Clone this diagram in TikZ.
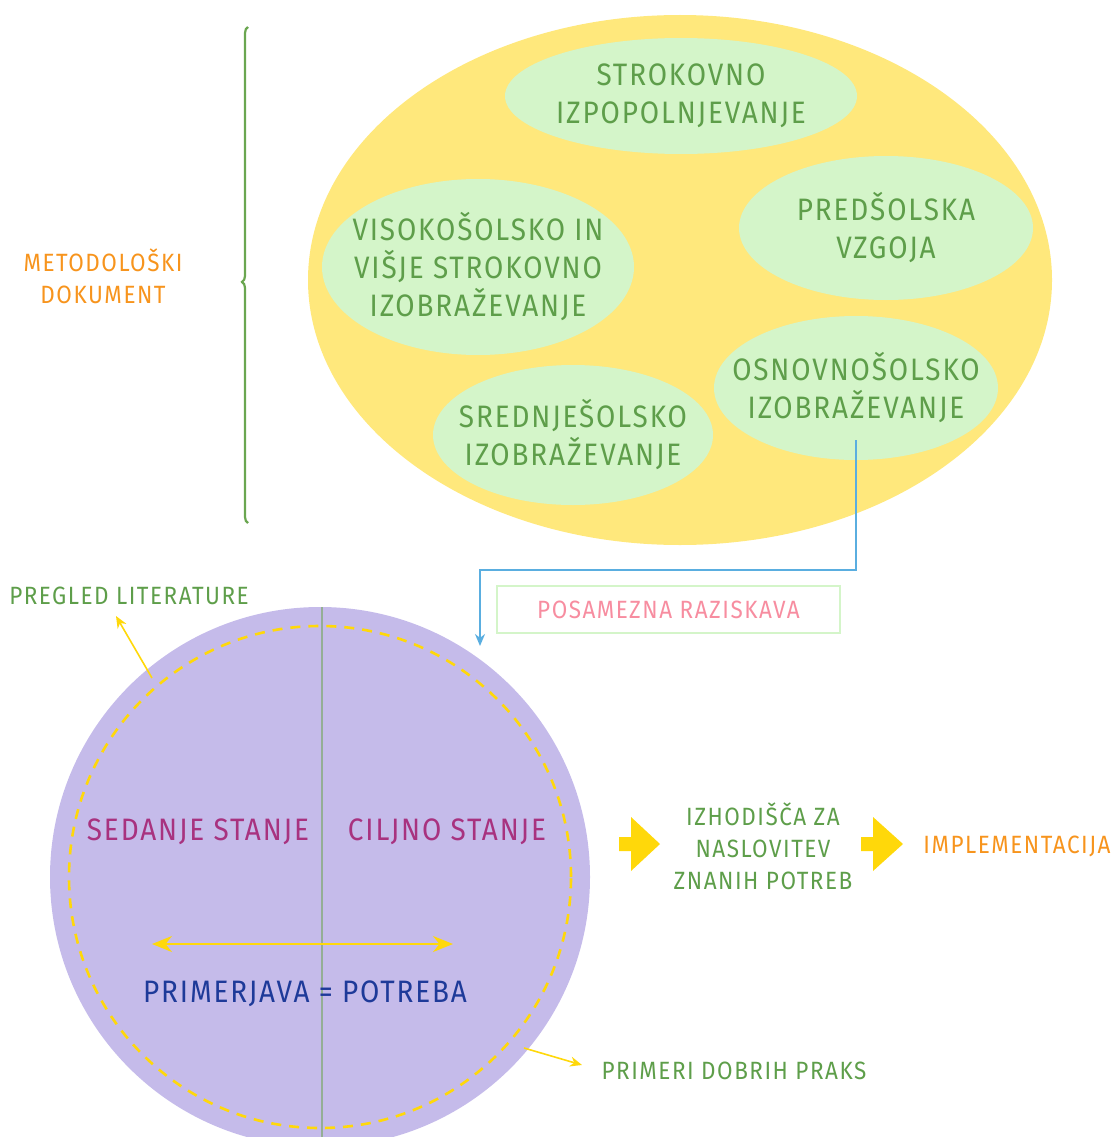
\documentclass[tikz,border=0pt]{standalone}
\usepackage{fontspec}
\setmainfont{Fira Sans}[FakeStretch=0.9,LetterSpace=6]
\usetikzlibrary{shapes.geometric,decorations.pathreplacing,arrows.meta}
\definecolor{bigyel}{HTML}{FFE87C}
\definecolor{lgrn}{HTML}{D4F5C9}
\definecolor{tgrn}{HTML}{5E9E4A}
\definecolor{org}{HTML}{F7941D}
\definecolor{bline}{HTML}{5AAEE0}
\definecolor{pnk}{HTML}{F78DA0}
\definecolor{purp}{HTML}{C5BBEA}
\definecolor{mag}{HTML}{A8327F}
\definecolor{dblue}{HTML}{1E3A99}
\definecolor{ayel}{HTML}{FFD80A}
\definecolor{vline}{HTML}{94AE95}
\definecolor{brc}{HTML}{6AA650}
\tikzset{
  subfill/.style={fill=lgrn},
  subtxt/.style={inner sep=0pt, text=tgrn, align=center,
    font=\fontsize{31}{38}\selectfont},
  lbl/.style={inner sep=0pt, align=center, font=\fontsize{25}{32}\selectfont},
  bigtxt/.style={inner sep=0pt, align=center, font=\fontsize{31}{38}\selectfont},
  blockarrow/.style={fill=ayel, draw=none},
  thinarrow/.style={draw=ayel, line width=1.6pt, -{Stealth[length=12pt,width=10pt]}},
}
\begin{document}
\begin{tikzpicture}[x=1pt,y=-1pt]
\useasboundingbox (0,0) rectangle (1118,1137);
\clip (0,0) rectangle (1118,1137);
% big yellow ellipse
\node[ellipse, fill=bigyel, minimum width=744pt, minimum height=530pt, inner sep=0pt] (big) at (680,280) {};
% sub ellipses
\fill[subfill] (681,96) ellipse[x radius=176pt, y radius=58pt];
\node[subtxt] (strok) at (681,96) {STROKOVNO\\IZPOPOLNJEVANJE};
\fill[subfill] (478,267) ellipse[x radius=156pt, y radius=88pt];
\node[subtxt] (viso) at (478,267) {VISOKOŠOLSKO IN\\VIŠJE STROKOVNO\\IZOBRAŽEVANJE};
\fill[subfill] (886,228) ellipse[x radius=147pt, y radius=72pt];
\node[subtxt] (pred) at (886,228) {PREDŠOLSKA\\VZGOJA};
\fill[subfill] (856,388) ellipse[x radius=142pt, y radius=72pt];
\node[subtxt] (osn) at (856,388) {OSNOVNOŠOLSKO\\IZOBRAŽEVANJE};
\fill[subfill] (573,435) ellipse[x radius=140pt, y radius=70pt];
\node[subtxt] (sred) at (573,435) {SREDNJEŠOLSKO\\IZOBRAŽEVANJE};
% brace and label
\coordinate (brb) at (248,523);
\coordinate (brt) at (248,27);
\draw[brc, line width=2.2pt, decorate, decoration={brace, amplitude=6pt, aspect=0.486}] (brb) -- (brt);
\node[lbl, text=org] (meto) at (103,276) {METODOLOŠKI\\DOKUMENT};
% blue connector
\coordinate (bstart) at (856,440);
\coordinate (bend) at (480,646);
\draw[bline, line width=2.2pt, -{Stealth[length=12pt,width=10pt]}] (bstart) |- (480,570) -- (bend);
% posamezna raziskava box
\node[draw=lgrn, line width=2.2pt, minimum width=343pt, minimum height=47pt, inner sep=0pt, text=pnk, font=\fontsize{25}{30}\selectfont] (posam) at (668.5,609.5) {POSAMEZNA RAZISKAVA};
% purple circle
\node[circle, fill=purp, minimum size=540pt, inner sep=0pt] (circ) at (320,877) {};
\draw[ayel, line width=2.6pt, dash pattern=on 10pt off 8pt] (circ.center) circle[radius=251pt];
\coordinate (vtop) at (322,607);
\coordinate (vbot) at (322,1137);
\draw[vline, line width=2.2pt] (vtop) -- (vbot);
\node[bigtxt, text=mag] (sed) at (198,832) {SEDANJE STANJE};
\node[bigtxt, text=mag] (cilj) at (447,832) {CILJNO STANJE};
\coordinate (dl) at (152,944);
\coordinate (dr) at (453,944);
\draw[ayel, line width=2.4pt, {Stealth[length=20pt,width=16pt]}-{Stealth[length=20pt,width=16pt]}] (dl) -- (dr);
\node[bigtxt, text=dblue] (prim) at (305,994) {PRIMERJAVA = POTREBA};
% side labels
\node[lbl, text=tgrn] (preg) at (129,596) {PREGLED LITERATURE};
\coordinate (pa) at (152,678);
\coordinate (pb) at (116,616);
\draw[thinarrow] (pa) -- (pb);
\node[lbl, text=tgrn] (dobr) at (734,1071) {PRIMERI DOBRIH PRAKS};
\coordinate (da) at (524,1048);
\coordinate (db) at (582,1065);
\draw[thinarrow] (da) -- (db);
% block arrows
\fill[blockarrow] (619,837) -- (631,837) -- (631,817) -- (660,844) -- (631,871) -- (631,851) -- (619,851) -- cycle;
\node[lbl, text=tgrn] (izho) at (763,846) {IZHODIŠČA ZA\\NASLOVITEV\\ZNANIH POTREB};
\fill[blockarrow] (861,837) -- (873,837) -- (873,817) -- (903,844) -- (873,871) -- (873,851) -- (861,851) -- cycle;
\node[lbl, text=org] (impl) at (1017,846) {IMPLEMENTACIJA};
\end{tikzpicture}
\end{document}
